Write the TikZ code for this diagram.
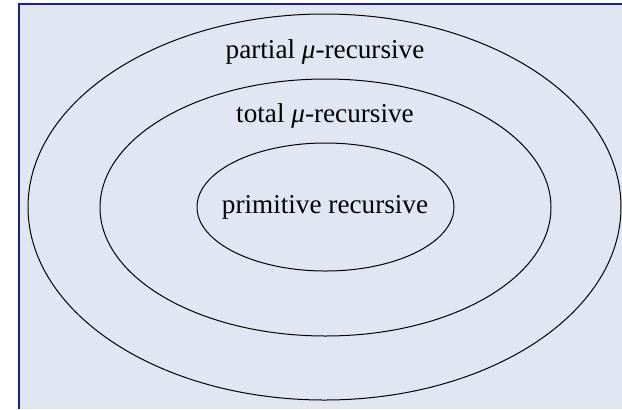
\documentclass[tikz,border=0pt]{standalone}
\usepackage{fontspec}
\setmainfont{Liberation Serif}
\definecolor{panelfill}{HTML}{E1E7F2}
\definecolor{panelline}{HTML}{1C1C9C}
\begin{document}
\begin{tikzpicture}[x=0.5pt, y=-0.5pt, every node/.style={font=\fontsize{13.6}{16}\selectfont}]
  \useasboundingbox (0,0) rectangle (622,409);
  \fill[panelfill] (19,4) rectangle (622,409);
  \draw[panelline, line width=0.7pt] (19,409) -- (19,4) -- (622,4);
  \coordinate (O) at (324.5,207); \coordinate (M) at (325.5,207.5);
  \coordinate (I) at (325.5,207);
  \draw[line width=0.5pt] (O) ellipse [x radius=296.5, y radius=193];
  \draw[line width=0.5pt] (M) ellipse [x radius=225.5, y radius=128.5];
  \draw[line width=0.5pt] (I) ellipse [x radius=128.5, y radius=64];
  \node (partial) at (325,52) {partial {\itshape μ}-recursive};
  \node (total) at (325,116) {total {\itshape μ}-recursive};
  \node (prim) at (325,207) {primitive recursive};
\end{tikzpicture}
\end{document}
